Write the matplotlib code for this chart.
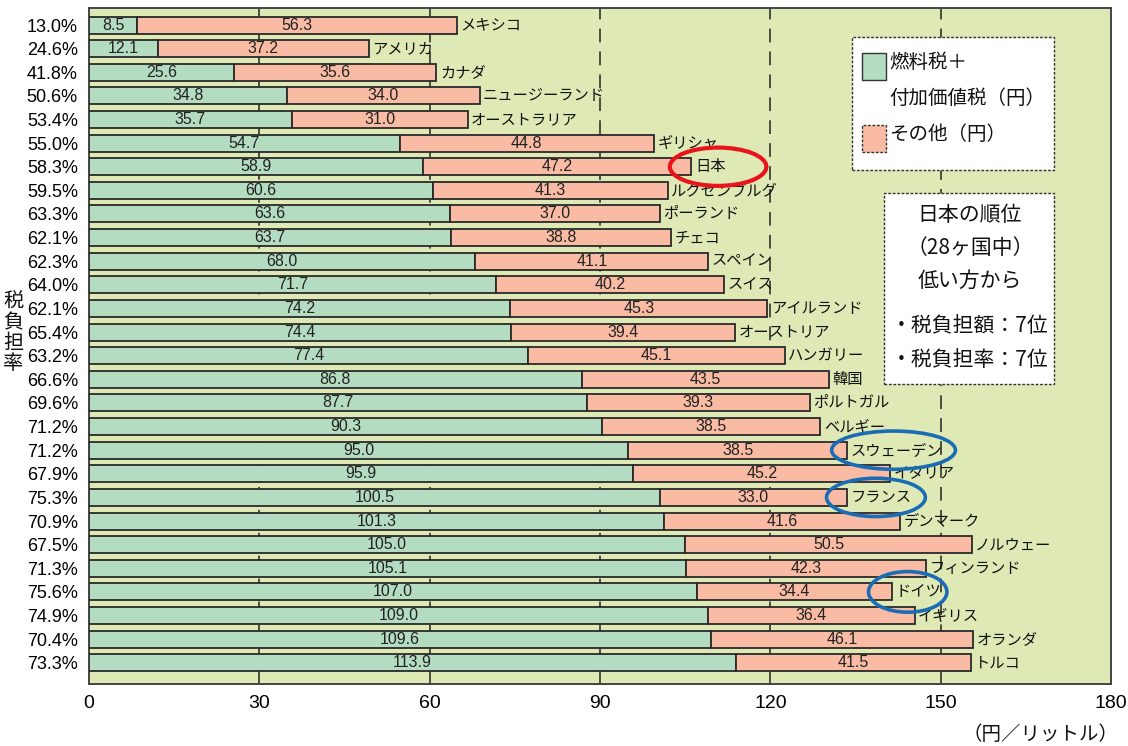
import matplotlib
matplotlib.use("Agg")
import matplotlib.pyplot as plt
from matplotlib.patches import Rectangle, Ellipse

plt.rcParams['font.family'] = ['Noto Sans CJK JP', 'DejaVu Sans']

countries = ["メキシコ", "アメリカ", "カナダ", "ニュージーランド", "オーストラリア", "ギリシャ",
             "日本", "ルクセンブルグ", "ポーランド", "チェコ", "スペイン", "スイス",
             "アイルランド", "オーストリア", "ハンガリー", "韓国", "ポルトガル", "ベルギー",
             "スウェーデン", "イタリア", "フランス", "デンマーク", "ノルウェー", "フィンランド",
             "ドイツ", "イギリス", "オランダ", "トルコ"]
fuel_vat = [8.5, 12.1, 25.6, 34.8, 35.7, 54.7, 58.9, 60.6, 63.6, 63.7, 68.0, 71.7, 74.2, 74.4,
            77.4, 86.8, 87.7, 90.3, 95.0, 95.9, 100.5, 101.3, 105.0, 105.1, 107.0, 109.0, 109.6, 113.9]
other = [56.3, 37.2, 35.6, 34.0, 31.0, 44.8, 47.2, 41.3, 37.0, 38.8, 41.1, 40.2, 45.3, 39.4,
         45.1, 43.5, 39.3, 38.5, 38.5, 45.2, 33.0, 41.6, 50.5, 42.3, 34.4, 36.4, 46.1, 41.5]
rates = ["13.0%", "24.6%", "41.8%", "50.6%", "53.4%", "55.0%", "58.3%", "59.5%", "63.3%", "62.1%",
         "62.3%", "64.0%", "62.1%", "65.4%", "63.2%", "66.6%", "69.6%", "71.2%", "71.2%", "67.9%",
         "75.3%", "70.9%", "67.5%", "71.3%", "75.6%", "74.9%", "70.4%", "73.3%"]
x_ticks = [0, 30, 60, 90, 120, 150, 180]
legend_labels = ["燃料税＋", "付加価値税（円）", "その他（円）"]
ranking_lines = ["日本の順位", "（28ヶ国中）", "低い方から", "・税負担額：7位", "・税負担率：7位"]

GREEN = "#b3dcc1"
SALMON = "#f9bba3"
BG = "#dfe9b5"
EDGE = "#2a2a2a"

W, H = 1128, 746
fig = plt.figure(figsize=(W / 100, H / 100), dpi=100)
ax = fig.add_axes([89 / W, 1 - 684 / H, (1111 - 89) / W, (684 - 8) / H])
ax.set_facecolor(BG)

ypos = list(range(len(countries)))
ax.barh(ypos, fuel_vat, height=0.72, color=GREEN, edgecolor=EDGE, linewidth=1.3, zorder=3)
ax.barh(ypos, other, left=fuel_vat, height=0.72, color=SALMON, edgecolor=EDGE, linewidth=1.3, zorder=3)

for xv in x_ticks[1:-1]:
    ax.axvline(xv, color="#222222", lw=1.1, linestyle=(0, (9, 6)), zorder=1)

num_font = ['Liberation Sans', 'DejaVu Sans']
for i, (f, o, c) in enumerate(zip(fuel_vat, other, countries)):
    ax.text(f / 2, i, f"{f:.1f}", ha="center", va="center", fontsize=11.5, family=num_font,
            color="#222222", zorder=5)
    ax.text(f + o / 2, i, f"{o:.1f}", ha="center", va="center", fontsize=11.5, family=num_font,
            color="#222222", zorder=5)
    ax.text(f + o + 0.6, i, c, ha="left", va="center", fontsize=11, color="#111111", zorder=5)

ax.set_xlim(0, 180)
ax.set_ylim(len(countries) - 0.1, -0.72)
ax.set_xticks(x_ticks)
ax.set_xticklabels([str(t) for t in x_ticks], fontsize=14, family=num_font)
ax.set_yticks(ypos)
ax.set_yticklabels(rates, fontsize=13, family=num_font)
ax.tick_params(axis="both", length=0, pad=8)
ax.tick_params(axis="y", pad=8)
for s in ax.spines.values():
    s.set_color("#444444")
    s.set_linewidth(1.4)

# ellipses around highlighted country labels
ell_specs = [("日本", 110.8, 1.62, 17.0, "#e8141b", 3.0),
             ("スウェーデン", 141.7, 1.62, 21.8, "#1a6db5", 2.6),
             ("フランス", 138.6, 1.62, 17.4, "#1a6db5", 2.6),
             ("ドイツ", 144.2, 1.72, 13.8, "#1a6db5", 2.6)]
for name, cx, hh, ww, col, lw in ell_specs:
    yi = countries.index(name)
    ax.add_patch(Ellipse((cx, yi), ww, hh, fill=False, edgecolor=col, lw=lw, zorder=6))

def fx(px):
    return px / W

def fy(py):
    return 1 - py / H

# y label
fig.text(fx(13), fy(333), "税\n負\n担\n率", ha="center", va="center", fontsize=14.5,
         linespacing=0.95, color="#111111")
# unit label
fig.text(fx(1040), fy(734), "（円／リットル）", ha="center", va="center", fontsize=14, color="#111111")

# legend box
fig.add_artist(Rectangle((fx(852), fy(170)), fx(1054 - 852), (170 - 37) / H, transform=fig.transFigure,
                         facecolor="white", edgecolor="#333333", lw=1.0, linestyle=(0, (2, 1.2)), zorder=10))
fig.add_artist(Rectangle((fx(862), fy(80)), fx(24), 27 / H, transform=fig.transFigure,
                         facecolor=GREEN, edgecolor="#333333", lw=1.0, zorder=11))
fig.add_artist(Rectangle((fx(862), fy(152)), fx(24), 27 / H, transform=fig.transFigure,
                         facecolor=SALMON, edgecolor="#333333", lw=1.0, linestyle=(0, (2, 1.2)), zorder=11))
for t, yy in zip(legend_labels, [62, 98, 135]):
    fig.text(fx(889), fy(yy), t, ha="left", va="center", fontsize=14, color="#111111", zorder=12)

# ranking box
fig.add_artist(Rectangle((fx(884), fy(384)), fx(1054 - 884), (384 - 193) / H, transform=fig.transFigure,
                         facecolor="white", edgecolor="#333333", lw=1.0, linestyle=(0, (2, 1.2)), zorder=10))
rank_y = [215, 248, 281, 326, 360]
for t, yy in zip(ranking_lines, rank_y):
    fig.text(fx(970), fy(yy), t, ha="center", va="center", fontsize=15, color="#111111", zorder=12)

fig.savefig("out.png", dpi=100)
